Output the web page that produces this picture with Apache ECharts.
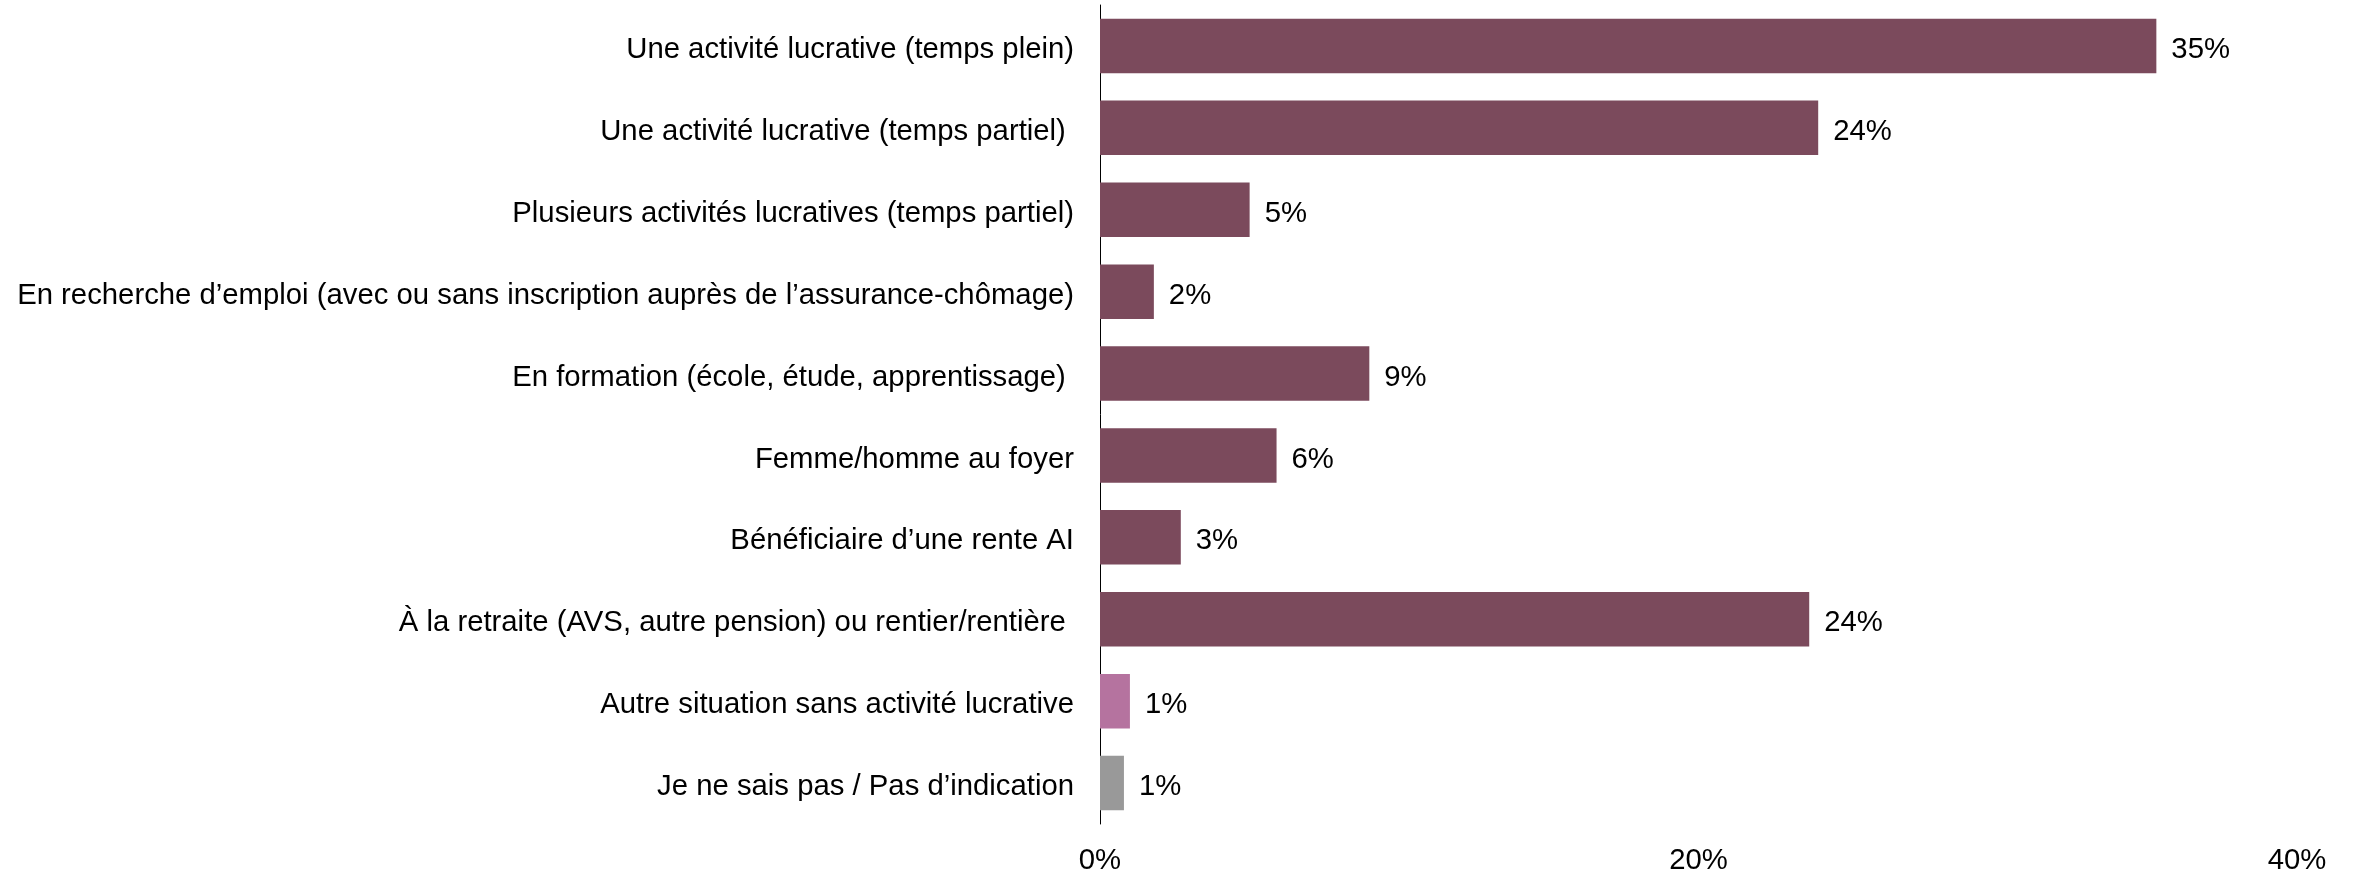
<!DOCTYPE html>
<html>
<head>
<meta charset="utf-8">
<script src="https://cdn.jsdelivr.net/npm/echarts@6/dist/echarts.min.js"></script>
<style>
html,body{margin:0;padding:0;background:#fff;}
#chart{width:2358px;height:876px;}
</style>
</head>
<body>
<div id="chart"></div>
<script>
var categories = [
  "Une activité lucrative (temps plein)",
  "Une activité lucrative (temps partiel) ",
  "Plusieurs activités lucratives (temps partiel)",
  "En recherche d’emploi (avec ou sans inscription auprès de l’assurance-chômage)",
  "En formation (école, étude, apprentissage) ",
  "Femme/homme au foyer",
  "Bénéficiaire d’une rente AI",
  "À la retraite (AVS, autre pension) ou rentier/rentière ",
  "Autre situation sans activité lucrative",
  "Je ne sais pas / Pas d’indication"
];
var values = [35.3, 24.0, 5.0, 1.8, 9.0, 5.9, 2.7, 23.7, 1.0, 0.8];
var barColors = ["#7B4A5C","#7B4A5C","#7B4A5C","#7B4A5C","#7B4A5C","#7B4A5C","#7B4A5C","#7B4A5C","#B5739F","#999999"];
var xTicks = { min: 0, max: 40, interval: 20 };

var FONT = "'Liberation Sans', Arial, sans-serif";
var FS = 29.3;
var chart = echarts.init(document.getElementById('chart'), null, {renderer: 'canvas'});
chart.setOption({
  animation: false,
  backgroundColor: '#ffffff',
  grid: { left: 1100, right: 61, top: 5, bottom: 52, containLabel: false },
  xAxis: {
    type: 'value',
    min: xTicks.min, max: xTicks.max, interval: xTicks.interval,
    axisLine: { show: false },
    axisTick: { show: false },
    splitLine: { show: false },
    axisLabel: {
      formatter: '{value}%', color: '#000', fontFamily: FONT, fontSize: FS, margin: 22
    }
  },
  yAxis: {
    type: 'category',
    inverse: true,
    data: categories,
    axisLine: { show: true, lineStyle: { color: '#000', width: 1 } },
    axisTick: { show: false },
    axisLabel: {
      color: '#000', fontFamily: FONT, fontSize: FS, margin: 26,
      formatter: function (v) { return '{a|' + v + '}'; },
      rich: { a: { color: '#000', fontFamily: FONT, fontSize: FS, padding: [8, 0, 0, 0] } }
    }
  },
  series: [{
    type: 'bar',
    data: values,
    barCategoryGap: '33.5%',
    itemStyle: {
      color: function (p) { return barColors[p.dataIndex]; }
    },
    label: {
      show: true,
      position: 'right',
      distance: 15,
      offset: [0, 4],
      color: '#000',
      fontFamily: FONT,
      fontSize: FS,
      formatter: function (p) { return Math.round(p.value) + '%'; }
    }
  }]
});
</script>
</body>
</html>
